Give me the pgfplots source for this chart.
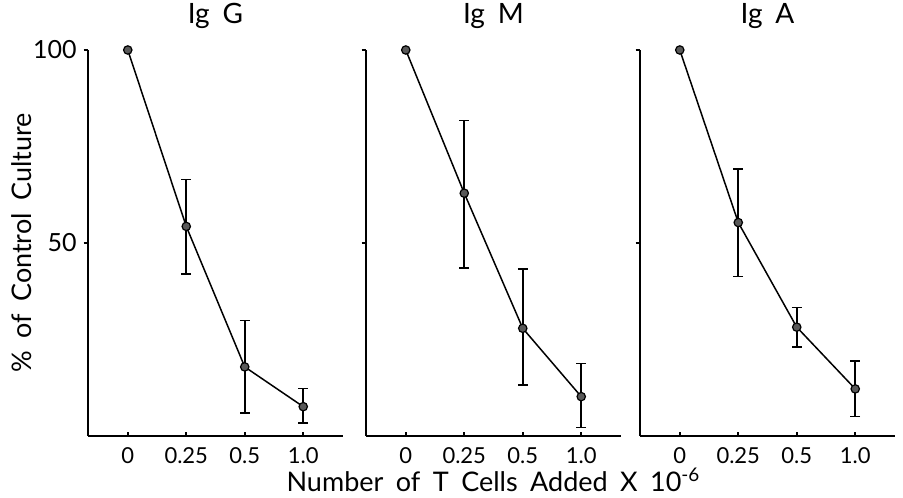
\documentclass[border=0pt]{standalone}
\usepackage{fontspec}
\setmainfont{Lato}[WordSpace=1.8]
\usepackage{pgfplots}
\pgfplotsset{compat=1.18}

\pgfplotstableread{
x y ep em
0 100 0 0
1 54.3 12.1 12.3
2 17.9 12.0 11.9
3 7.6 4.7 4.3
}\IgG
\pgfplotstableread{
x y ep em
0 100 0 0
1 62.9 18.8 19.3
2 27.9 15.3 14.7
3 10.2 8.6 8.0
}\IgM
\pgfplotstableread{
x y ep em
0 100 0 0
1 55.3 13.9 14.0
2 28.2 5.1 5.1
3 12.2 7.2 7.2
}\IgA

\pgfplotsset{
  panel/.style={
    scale only axis, width=127.5pt, height=193pt,
    xmin=-0.68, xmax=3.68, ymin=0, ymax=100,
    axis lines*=left,
    axis line style={line width=0.8pt},
    xtick={0,1,2,3}, xticklabels={0,0.25,0.5,1.0},
    ytick={50,100},
    xtick align=inside, ytick align=outside,
    major tick length=2.2pt,
    tick style={line width=0.8pt, black},
    xticklabel style={font=\fontsize{11}{13}\selectfont, yshift=-2pt},
    yticklabel style={font=\fontsize{12.5}{14}\selectfont},
    title style={at={(axis description cs:0.5,1)}, anchor=center, yshift=11pt,
                 font=\fontsize{14}{16}\selectfont},
    clip=false,
  },
  errs/.style={draw=none, mark=none, forget plot,
    skip coords between index={0}{1},
    error bars/.cd, y dir=both, y explicit,
    error bar style={line width=0.8pt, black},
    error mark options={rotate=90, mark size=2.4pt, line width=0.8pt, black}},
  ser/.style={black, line width=0.75pt, mark=*, mark size=2.1pt,
    mark options={fill=black!65, draw=black, line width=0.6pt}},
}

\begin{document}
\begin{tikzpicture}
\useasboundingbox (0,0) rectangle (451.5pt,248.5pt);

\begin{axis}[panel, at={(44pt,30.5pt)}, anchor=south west,
  title={Ig G},
  yticklabels={50,100},
  ylabel={\% of Control Culture},
  ylabel style={at={(axis description cs:-0.259,0.5)}, anchor=center,
                font=\fontsize{13.5}{16}\selectfont}]
\addplot[errs] table[x=x, y=y, y error plus=ep, y error minus=em] {\IgG};
\addplot[ser] table[x=x, y=y] {\IgG};
\end{axis}

\begin{axis}[panel, at={(183pt,30.5pt)}, anchor=south west,
  title={Ig M},
  yticklabels={,},
  xlabel={Number of T Cells Added X 10\textsuperscript{-6}},
  xlabel style={at={(axis description cs:0.5,-0.114)}, anchor=center,
                font=\fontsize{13.5}{16}\selectfont}]
\addplot[errs] table[x=x, y=y, y error plus=ep, y error minus=em] {\IgM};
\addplot[ser] table[x=x, y=y] {\IgM};
\end{axis}

\begin{axis}[panel, at={(320pt,30.5pt)}, anchor=south west,
  title={Ig A},
  yticklabels={,}]
\addplot[errs] table[x=x, y=y, y error plus=ep, y error minus=em] {\IgA};
\addplot[ser] table[x=x, y=y] {\IgA};
\end{axis}
\end{tikzpicture}
\end{document}
